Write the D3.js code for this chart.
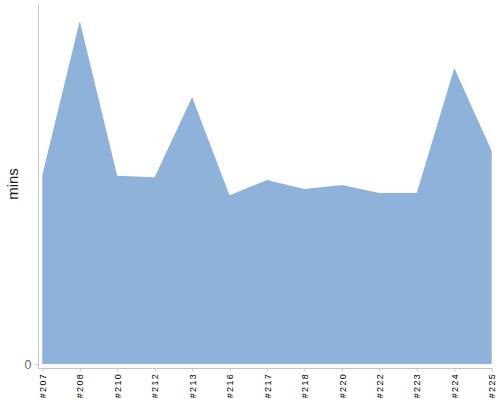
<!DOCTYPE html>
<html>
<head>
<meta charset="utf-8">
<script src="https://cdn.jsdelivr.net/npm/d3@7"></script>
<style>
  body { margin: 0; background: #fff; }
  svg { display: block; font-family: "Liberation Sans", Arial, sans-serif; }
</style>
</head>
<body>
<div id="chart"></div>
<script>
// data
var builds = ['#207', '#208', '#210', '#212', '#213', '#216', '#217', '#218', '#220', '#222', '#223', '#224', '#225']
var mins = [52.5, 95.3, 52.3, 51.9, 74.2, 46.9, 51.1, 48.6, 49.7, 47.5, 47.5, 82.2, 59.2]
var yTicks = [0]

var width = 500, height = 400
var margin = { top: 4, right: 8, bottom: 36, left: 38 }

var svg = d3.select("#chart")
  .append("svg")
  .attr("width", width)
  .attr("height", height)

var xScale = d3.scalePoint()
  .domain(builds)
  .range([42.3, 491.7])

var yScale = d3.scaleLinear()
  .domain([0, 100])
  .range([364, margin.top])

var data = builds.map(function(b, i) {
  return { build: b, value: mins[i] }
})

var area = d3.area()
  .x(function(d) { return xScale(d.build) })
  .y0(yScale(0))
  .y1(function(d) { return yScale(d.value) })

svg.append("path")
  .datum(data)
  .attr("d", area)
  .attr("fill", "#8fb2db")

// axis lines
var axisColor = '#c4c4c4'
var xAxisY = 368.5

svg.append("line")
  .attr("x1", 38.5).attr("x2", 38.5)
  .attr("y1", margin.top).attr("y2", xAxisY)
  .attr("stroke", axisColor)

svg.append("line")
  .attr("x1", 38.5).attr("x2", 492)
  .attr("y1", xAxisY).attr("y2", xAxisY)
  .attr("stroke", axisColor)

// Y axis
var yAxis = d3.axisLeft(yScale)
  .tickValues(yTicks)
  .tickSize(3)
  .tickPadding(4)

var yg = svg.append("g")
  .attr("transform", "translate(38.5,0)")
  .call(yAxis)
yg.select(".domain").remove()
yg.selectAll("line").attr("stroke", axisColor)
yg.selectAll("text")
  .attr("font-size", "12.5px")
  .attr("font-family", "Liberation Sans, Arial, sans-serif")
  .attr("fill", "#666")

// X axis
var xAxis = d3.axisBottom(xScale)
  .tickSize(3)
  .tickSizeOuter(0)

var xg = svg.append("g")
  .attr("transform", "translate(0," + xAxisY + ")")
  .call(xAxis)
xg.select(".domain").remove()
xg.selectAll("line").attr("stroke", axisColor)
xg.selectAll("text")
  .attr("font-size", "9px")
  .attr("font-family", "Liberation Sans, Arial, sans-serif")
  .attr("fill", "#000")
  .attr("letter-spacing", "1.3px")
  .attr("text-anchor", "end")
  .attr("transform", "rotate(-90)")
  .attr("x", -4.5)
  .attr("y", 0)
  .attr("dy", "0.35em")

// Y label
svg.append("text")
  .attr("transform", "translate(18,184) rotate(-90)")
  .attr("text-anchor", "middle")
  .attr("font-size", "15px")
  .attr("fill", "#222")
  .text("mins")
</script>
</body>
</html>
